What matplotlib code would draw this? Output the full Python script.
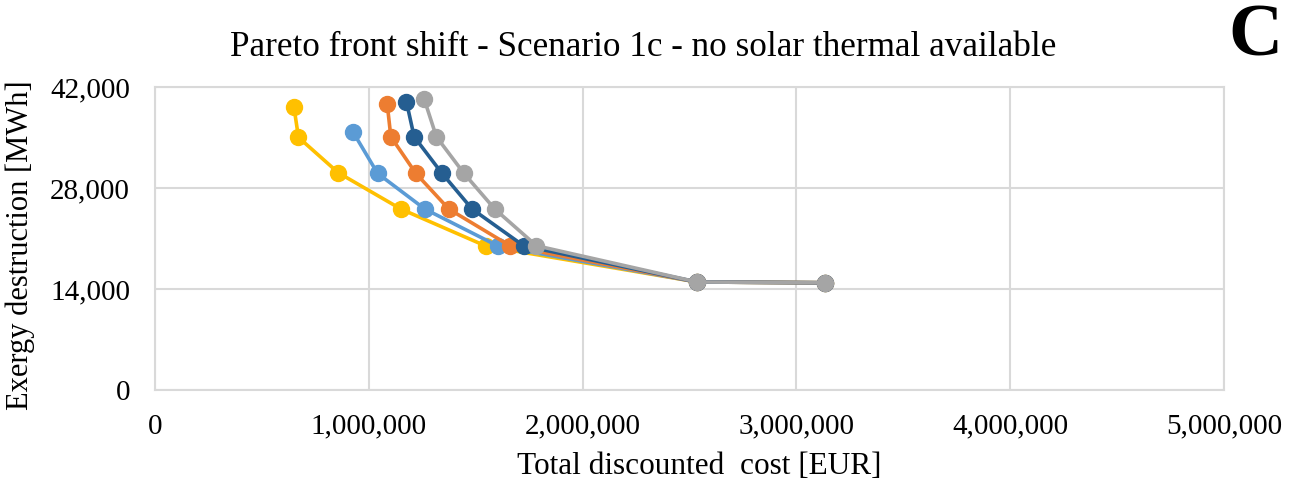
import numpy as np
import matplotlib.pyplot as plt

# Pareto fronts (cost in EUR, exergy destruction in MWh)
series_names = ["yellow", "light blue", "orange", "dark blue", "gray"]
series_colors = ["#FFC000", "#5B9BD5", "#ED7D31", "#255E91", "#A5A5A5"]

cost_yellow = [650000, 671000, 857000, 1150000, 1547000, 2536000, 3136000]
exergy_yellow = [39180, 35020, 30120, 25090, 19960, 14970, 14870]

cost_lblue = [927000, 1041000, 1262000, 1604000, 2536000, 3136000]
exergy_lblue = [35720, 30030, 25090, 19960, 14970, 14870]

cost_orange = [1086000, 1103000, 1220000, 1374000, 1662000, 2536000, 3136000]
exergy_orange = [39640, 35110, 30030, 25090, 19960, 14970, 14870]

cost_dblue = [1176000, 1212000, 1340000, 1483000, 1724000, 2536000, 3136000]
exergy_dblue = [39960, 35110, 30120, 25090, 20000, 14970, 14870]

cost_gray = [1259000, 1316000, 1445000, 1589000, 1784000, 2536000, 3136000]
exergy_gray = [40330, 35110, 30030, 25090, 20000, 14970, 14870]

x_ticks = [0, 1000000, 2000000, 3000000, 4000000, 5000000]
y_ticks = [0, 14000, 28000, 42000]

plt.rcParams['font.family'] = ['Liberation Serif', 'DejaVu Serif']

fig = plt.figure(figsize=(13.06, 4.84), dpi=100)
ax = fig.add_axes([0.1187, 0.1942, 0.8185, 0.626])

all_cost = [cost_yellow, cost_lblue, cost_orange, cost_dblue, cost_gray]
all_exergy = [exergy_yellow, exergy_lblue, exergy_orange, exergy_dblue, exergy_gray]
for xs, ys, col, name in zip(all_cost, all_exergy, series_colors, series_names):
    ax.plot(xs, ys, color=col, lw=2.6, marker='o', ms=11.5, label=name)

ax.set_xlim(0, 5000000)
ax.set_ylim(0, 42000)
ax.set_xticks(x_ticks)
ax.set_yticks(y_ticks)
ax.set_xticklabels([f"{v:,}" for v in x_ticks])
ax.set_yticklabels([f"{v:,}" for v in y_ticks])
ax.tick_params(length=0, labelsize=21)
ax.tick_params(axis='x', pad=17)
ax.tick_params(axis='y', pad=18)
ax.grid(True, color='#D9D9D9', lw=1.5)
ax.set_axisbelow(True)
for s in ax.spines.values():
    s.set_color('#D9D9D9')
    s.set_linewidth(1.5)

fig.text(699 / 1306, 1 - 466 / 484, "Total discounted  cost [EUR]", ha='center', va='center', fontsize=22.5)
fig.text(20 / 1306, 1 - 245 / 484, "Exergy destruction [MWh]", ha='center', va='center', rotation=90, fontsize=22)
fig.text(643 / 1306, 1 - 47 / 484, "Pareto front shift - Scenario 1c - no solar thermal available",
         ha='center', va='center', fontsize=25.3)
fig.text(1255 / 1306, 1 - 38 / 484, "C", ha='center', va='center', fontsize=54, fontweight='bold')

fig.savefig("out.png", dpi=100)
